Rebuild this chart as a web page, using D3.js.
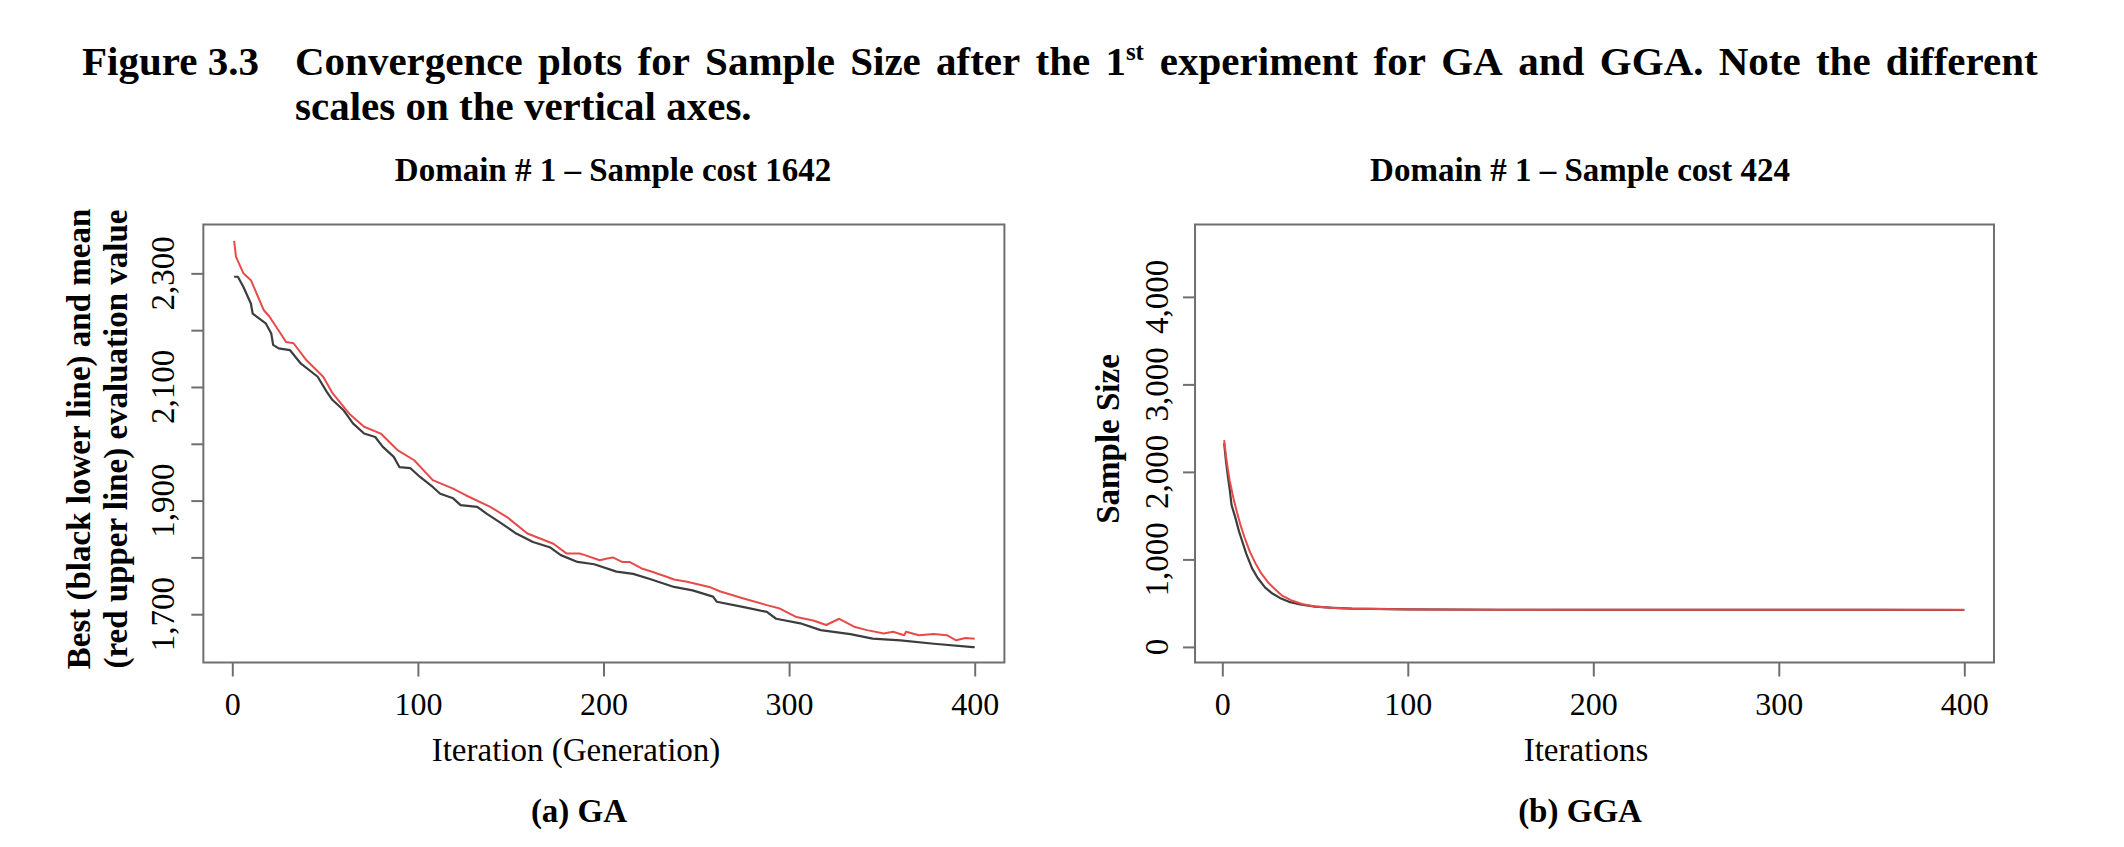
<!DOCTYPE html>
<html>
<head>
<meta charset="utf-8">
<title>Figure 3.3</title>
<script src="https://cdn.jsdelivr.net/npm/d3@7"></script>
<style>
  body { margin: 0; background: #fff; }
  text { font-family: "Liberation Serif", "Times New Roman", serif; fill: #000; }
</style>
</head>
<body>
<div id="container"></div>
<script>
// (a) GA - best (black) and mean (red) evaluation value per generation
var gaBestIter = [1, 3, 6, 10, 11, 18, 21, 22, 25, 31, 37, 46, 51, 54, 60, 65, 71, 77, 81, 87, 90, 96, 101, 108, 112, 119, 123, 132, 137, 144, 153, 162, 171, 177, 186, 195, 207, 216, 225, 238, 243, 248, 259, 261, 275, 288, 293, 306, 317, 333, 345, 360, 378, 399, 400];
var gaBestVal  = [2294, 2294, 2276, 2247, 2229, 2212, 2194, 2174, 2168, 2165, 2141, 2118, 2091, 2077, 2059, 2036, 2018, 2012, 1995, 1977, 1959, 1957, 1942, 1924, 1912, 1904, 1892, 1889, 1877, 1862, 1842, 1827, 1818, 1804, 1792, 1788, 1775, 1771, 1762, 1748, 1745, 1742, 1731, 1722, 1713, 1704, 1692, 1684, 1672, 1665, 1657, 1654, 1648, 1642, 1642];
var gaMeanIter = [1, 2, 6, 10, 12, 17, 20, 26, 29, 33, 40, 49, 54, 63, 71, 80, 89, 98, 108, 119, 126, 139, 148, 159, 173, 180, 187, 190, 198, 202, 205, 210, 214, 221, 225, 234, 238, 245, 257, 263, 275, 288, 295, 304, 313, 320, 327, 335, 342, 351, 356, 362, 363, 370, 378, 385, 390, 395, 400];
var gaMeanVal  = [2357, 2329, 2300, 2288, 2273, 2235, 2224, 2194, 2179, 2177, 2147, 2118, 2089, 2053, 2030, 2018, 1989, 1971, 1936, 1921, 1909, 1889, 1871, 1842, 1824, 1807, 1807, 1804, 1795, 1798, 1800, 1792, 1792, 1780, 1776, 1766, 1761, 1757, 1748, 1740, 1728, 1716, 1710, 1695, 1689, 1681, 1692, 1678, 1672, 1666, 1669, 1663, 1669, 1663, 1665, 1663, 1654, 1658, 1657];

// (b) GGA - best (black) and mean (red) sample size per iteration
var ggaBestIter = [1, 2, 3, 4, 5, 7, 9, 11, 13, 16, 19, 23, 27, 31, 36, 42, 50, 60, 70, 100, 150, 200, 250, 300, 350, 400];
var ggaBestVal  = [2330, 2120, 1950, 1800, 1620, 1480, 1320, 1190, 1060, 900, 790, 680, 610, 560, 515, 485, 460, 447, 438, 428, 425, 424, 424, 423, 423, 422];
var ggaMeanIter = [1, 2, 3, 4, 6, 8, 10, 12, 15, 18, 21, 25, 28, 32, 37, 43, 49, 58, 67, 85, 103, 150, 200, 250, 300, 350, 400];
var ggaMeanVal  = [2362, 2180, 2030, 1900, 1700, 1530, 1380, 1250, 1080, 950, 840, 730, 667, 590, 534, 490, 465, 448, 439, 432, 427, 426, 425, 426, 425, 425, 424];

var gaYTicks = [1700, 1800, 1900, 2000, 2100, 2200, 2300];
var gaYLabels = [1700, 1900, 2100, 2300];
var ggaYTicks = [0, 1000, 2000, 3000, 4000];
var xTicks = [0, 100, 200, 300, 400];

var W = 2124, H = 847;
var black_color = '#3d3d3d';
var red_color   = '#e84a4a';
var frame_color = '#6f6f6f';

var svg = d3.select("#container")
    .append("svg")
    .attr("width", W)
    .attr("height", H);
svg.append("rect").attr("width", W).attr("height", H).attr("fill", "#fff");

// ---- figure caption (justified first line) ----
var TITLE_SIZE = 41;
var title = svg.append("g").attr("font-weight", "bold").attr("font-size", TITLE_SIZE);
title.append("text").attr("x", 82).attr("y", 75).text("Figure 3.3");

var words = ["Convergence", "plots", "for", "Sample", "Size", "after", "the", "1st",
             "experiment", "for", "GA", "and", "GGA.", "Note", "the", "different"];
var LINE_LEFT = 295, LINE_RIGHT = 2038;
var nodes = words.map(function(w) {
    var t = title.append("text").attr("y", 75);
    if (w === "1st") {
        t.append("tspan").text("1");
        t.append("tspan").attr("font-size", 25).attr("dy", -15).text("st");
    } else {
        t.text(w);
    }
    return t;
});
var widths = nodes.map(function(t) { return t.node().getBBox().width; });
var gap = (LINE_RIGHT - LINE_LEFT - d3.sum(widths)) / (words.length - 1);
var cx = LINE_LEFT;
nodes.forEach(function(t, i) {
    t.attr("x", cx);
    cx += widths[i] + gap;
});
title.append("text").attr("x", 295).attr("y", 120).text("scales on the vertical axes.");

// ---- one panel ----
function drawPanel(p) {
    var g = svg.append("g");
    var x = d3.scaleLinear().domain([0, 400]).range(p.xRange);
    var y = d3.scaleLinear().domain(p.yDomain).range([662.5, 224.5]);
    var left = x(p.xPad[0]), right = x(p.xPad[1]);

    var line = d3.line()
        .x(function(d) { return x(d[0]); })
        .y(function(d) { return y(d[1]); });

    g.append("path")
        .datum(d3.zip(p.bestIter, p.bestVal))
        .attr("d", line)
        .attr("fill", "none")
        .attr("stroke", black_color)
        .attr("stroke-width", 2.2)
        .attr("stroke-linejoin", "round");
    g.append("path")
        .datum(d3.zip(p.meanIter, p.meanVal))
        .attr("d", line)
        .attr("fill", "none")
        .attr("stroke", red_color)
        .attr("stroke-width", 2)
        .attr("stroke-linejoin", "round");

    // frame
    g.append("rect")
        .attr("x", left).attr("y", 224.5)
        .attr("width", right - left).attr("height", 662.5 - 224.5)
        .attr("fill", "none")
        .attr("stroke", frame_color)
        .attr("stroke-width", 2);

    // x axis
    var xAxis = d3.axisBottom(x).tickValues(xTicks).tickSize(14).tickSizeOuter(0).tickPadding(10);
    var gx = g.append("g")
        .attr("transform", "translate(0,662.5)")
        .call(xAxis);
    gx.select(".domain").remove();
    gx.selectAll(".tick line").attr("stroke", frame_color).attr("stroke-width", 2);
    gx.selectAll(".tick text")
        .attr("font-family", '"Liberation Serif", serif')
        .attr("font-size", 32)
        .attr("fill", "#000")
        .attr("dy", null)
        .attr("y", 52);

    // y axis ticks
    var yAxis = d3.axisLeft(y).tickValues(p.yTicks).tickSize(12).tickSizeOuter(0).tickFormat("");
    var gy = g.append("g")
        .attr("transform", "translate(" + left + ",0)")
        .call(yAxis);
    gy.select(".domain").remove();
    gy.selectAll(".tick line").attr("stroke", frame_color).attr("stroke-width", 2);

    // rotated y tick labels
    g.selectAll(".ylab")
        .data(p.yLabels)
        .enter().append("text")
        .attr("class", "ylab")
        .attr("font-size", 33)
        .attr("text-anchor", "middle")
        .attr("transform", function(d) {
            return "translate(" + p.yLabelX + "," + y(d) + ") rotate(-90)";
        })
        .text(d3.format(","));

    // titles
    g.append("text")
        .attr("x", p.titleX).attr("y", 181)
        .attr("text-anchor", "middle")
        .attr("font-weight", "bold").attr("font-size", 33)
        .text(p.title);
    g.append("text")
        .attr("x", p.xlabX).attr("y", 761)
        .attr("text-anchor", "middle")
        .attr("font-size", 33)
        .text(p.xlab);
    g.append("text")
        .attr("x", p.capX).attr("y", 822)
        .attr("text-anchor", "middle")
        .attr("font-weight", "bold").attr("font-size", 33)
        .text(p.caption);
    p.ylab.forEach(function(s, i) {
        g.append("text")
            .attr("text-anchor", "middle")
            .attr("font-weight", "bold").attr("font-size", 33)
            .attr("transform", "translate(" + p.ylabX[i] + ",439) rotate(-90)")
            .text(s);
    });
}

drawPanel({
    xRange: [232.3, 974.7], xPad: [-15.6, 416],
    yDomain: [1615, 2386],
    yTicks: gaYTicks, yLabels: gaYLabels, yLabelX: 174,
    bestIter: gaBestIter, bestVal: gaBestVal,
    meanIter: gaMeanIter, meanVal: gaMeanVal,
    title: "Domain # 1 \u2013 Sample cost 1642", titleX: 613,
    xlab: "Iteration (Generation)", xlabX: 576,
    caption: "(a) GA", capX: 579,
    ylab: ["Best (black lower line) and mean", "(red upper line) evaluation value"], ylabX: [90, 127]
});

drawPanel({
    xRange: [1222.3, 1964.3], xPad: [-14.7, 416],
    yDomain: [-178, 4827],
    yTicks: ggaYTicks, yLabels: ggaYTicks, yLabelX: 1168,
    bestIter: ggaBestIter, bestVal: ggaBestVal,
    meanIter: ggaMeanIter, meanVal: ggaMeanVal,
    title: "Domain # 1 \u2013 Sample cost 424", titleX: 1580,
    xlab: "Iterations", xlabX: 1586,
    caption: "(b) GGA", capX: 1580,
    ylab: ["Sample Size"], ylabX: [1119]
});
</script>
</body>
</html>
